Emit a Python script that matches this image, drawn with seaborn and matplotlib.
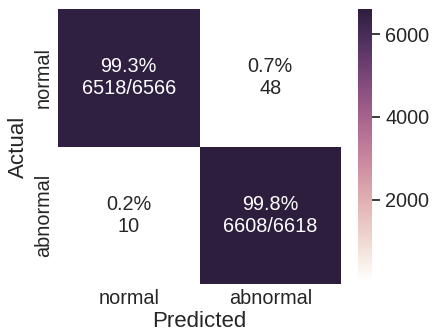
import numpy as np
import pandas as pd
import matplotlib
matplotlib.use("Agg")
import matplotlib.pyplot as plt
import seaborn as sns

# Confusion matrix counts (rows = actual, columns = predicted)
class_names = ["normal", "abnormal"]
row_normal = [6518, 48]
row_abnormal = [10, 6608]

counts = np.array([row_normal, row_abnormal])
row_totals = counts.sum(axis=1, keepdims=True)
pct = counts / row_totals * 100

labels = []
for i in range(2):
    row = []
    for j in range(2):
        if i == j:
            row.append(f"{pct[i, j]:.1f}%\n{counts[i, j]}/{row_totals[i, 0]}")
        else:
            row.append(f"{pct[i, j]:.1f}%\n{counts[i, j]}")
    labels.append(row)
labels = np.array(labels)

df = pd.DataFrame(counts, index=class_names, columns=class_names)

sns.set_theme(style="ticks")
plt.rcParams["font.family"] = ["Liberation Sans", "DejaVu Sans"]

fig = plt.figure(figsize=(4.34, 3.34), dpi=100)
ax = fig.add_axes([58 / 434, 1 - 284 / 334, 283 / 434, 275 / 334])
cax = fig.add_axes([358 / 434, 1 - 282 / 334, 14 / 434, 273 / 334])

cmap = sns.cubehelix_palette(light=1.0, as_cmap=True)
sns.heatmap(df, annot=labels, fmt="", cmap=cmap, ax=ax, cbar_ax=cax,
            annot_kws={"size": 14.3})

ax.set_xlabel("Predicted", fontsize=16, labelpad=2)
ax.set_ylabel("Actual", fontsize=16)
ax.tick_params(axis="both", labelsize=14.3, length=0)
ax.set_yticklabels(class_names, rotation=90, va="center")
cax.tick_params(labelsize=14.3)
cax.set_yticks([2000, 4000, 6000])

fig.savefig("out.png", dpi=100)
